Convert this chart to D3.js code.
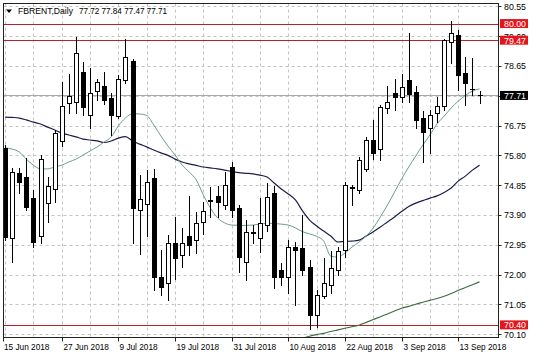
<!DOCTYPE html>
<html>
<head>
<meta charset="utf-8">
<script src="https://cdn.jsdelivr.net/npm/d3@7"></script>
<style>
  body { margin: 0; background: #fff; }
  svg { display: block; font-family: "Liberation Sans", Arial, sans-serif; }
</style>
</head>
<body>
<svg id="chart" width="536" height="358"></svg>
<script>
// daily bars, FBRENT
const dates = [
  "2018-06-15","2018-06-18","2018-06-19","2018-06-20","2018-06-21","2018-06-22","2018-06-25","2018-06-26",
  "2018-06-27","2018-06-28","2018-06-29","2018-07-02","2018-07-03","2018-07-04","2018-07-05","2018-07-06",
  "2018-07-09","2018-07-10","2018-07-11","2018-07-12","2018-07-13","2018-07-16","2018-07-17","2018-07-18",
  "2018-07-19","2018-07-20","2018-07-23","2018-07-24","2018-07-25","2018-07-26","2018-07-27","2018-07-30",
  "2018-07-31","2018-08-01","2018-08-02","2018-08-03","2018-08-06","2018-08-07","2018-08-08","2018-08-09",
  "2018-08-10","2018-08-13","2018-08-14","2018-08-15","2018-08-16","2018-08-17","2018-08-20","2018-08-21",
  "2018-08-22","2018-08-23","2018-08-24","2018-08-27","2018-08-28","2018-08-29","2018-08-30","2018-08-31",
  "2018-09-03","2018-09-04","2018-09-05","2018-09-06","2018-09-07","2018-09-10","2018-09-11","2018-09-12",
  "2018-09-13","2018-09-14","2018-09-17","2018-09-18"
];
const opens = [
  76.04,73.17,75.24,75.10,74.44,73.23,74.28,74.72, 76.25,77.46,77.49,78.46,77.08,77.85,78.01,77.62,
  77.05,78.20,78.81,74.06,74.25,75.09,71.93,71.73, 73.00,72.63,73.23,73.10,73.67,74.34,74.51,74.22,
  75.42,74.12,72.40,73.36,73.16,73.58,74.60,72.15, 71.93,72.88,72.84,72.24,70.71,71.32,71.67,72.15,
  72.78,74.79,74.69,75.36,76.29,76.00,77.31,77.78, 77.65,78.20,77.81,77.00,76.67,77.15,77.37,79.41,
  79.63,78.42,77.93,77.72
];
const highs = [
  76.13,75.40,75.40,75.72,74.69,75.80,75.10,76.60, 78.14,78.39,79.57,78.78,78.59,78.24,78.46,77.78,
  78.36,79.50,78.88,75.17,75.34,75.37,72.79,73.26, 73.83,73.48,74.50,73.99,74.31,74.80,74.82,75.28,
  75.60,74.22,73.74,73.58,74.44,74.92,74.82,72.37, 73.10,73.04,73.90,72.47,71.51,72.53,72.75,72.88,
  74.95,74.85,75.75,76.39,76.93,77.40,78.00,78.23, 78.39,79.70,78.00,77.20,77.24,77.65,79.50,80.08,
  79.80,78.94,78.90,77.84
];
const lows = [
  73.10,72.40,74.60,74.05,72.88,73.00,73.67,74.30, 76.10,77.15,77.15,77.08,76.67,77.56,77.43,76.45,
  76.99,78.11,73.00,72.65,73.23,71.51,71.35,71.20, 71.86,72.25,72.63,72.69,73.30,73.85,73.85,74.08,
  73.85,72.08,71.83,73.00,72.72,73.40,71.58,71.67, 71.41,71.03,71.99,70.27,70.33,71.26,71.41,71.99,
  72.56,74.22,74.60,75.30,75.68,75.65,77.15,77.24, 77.50,77.50,76.67,75.59,75.87,76.86,77.24,78.74,
  77.88,77.40,77.72,77.47
];
const closes = [
  73.20,75.27,74.95,74.15,73.03,75.68,74.82,76.50, 77.37,77.69,79.06,77.34,77.78,78.14,77.56,77.08,
  78.23,78.94,74.12,74.41,74.95,71.93,71.61,73.00, 72.52,73.00,72.94,73.64,74.02,74.38,74.33,74.85,
  74.06,72.56,73.36,73.33,73.64,74.47,71.93,71.93, 72.88,72.78,72.15,70.71,71.35,71.73,72.21,72.75,
  74.85,74.77,75.65,76.29,75.87,77.34,77.50,77.65, 77.97,77.75,76.93,76.54,77.08,77.37,79.47,79.70,
  78.36,78.11,77.91,77.71
];

// moving averages
const maFast = [
  76.04,76.00,75.91,75.68,75.49,75.37,75.37,75.43, 75.49,75.59,75.68,75.81,75.94,76.07,76.23,76.39,
  76.74,76.99,77.13,77.12,77.07,76.77,76.42,76.10, 75.81,75.49,75.27,75.02,74.54,74.12,73.81,73.65,
  73.58,73.57,73.57,73.58,73.61,73.64,73.63,73.61, 73.58,73.49,73.37,73.30,73.22,73.07,72.59,72.56,
  72.69,72.88,73.04,73.23,73.49,73.84,74.22,74.63, 75.05,75.43,75.78,76.13,76.45,76.80,77.05,77.31,
  77.53,77.71,77.85,77.92
];
const maSlow = [
  77.02,77.01,76.99,76.93,76.86,76.80,76.70,76.61, 76.51,76.45,76.39,76.32,76.29,76.26,76.21,76.26,
  76.35,76.40,76.26,76.16,76.07,75.97,75.88,75.80, 75.68,75.59,75.53,75.48,75.43,75.40,75.37,75.33,
  75.29,75.25,75.23,75.21,75.17,75.11,74.92,74.73, 74.57,74.38,74.03,73.74,73.55,73.39,73.23,73.04,
  73.06,73.07,73.10,73.23,73.37,73.52,73.68,73.84, 74.01,74.17,74.28,74.36,74.44,74.51,74.62,74.76,
  74.98,75.14,75.33,75.49
];
const maLong = [
  null,null,null,null,null,null,null,null, null,null,null,null,null,null,null,null,
  null,null,null,null,null,null,null,null, null,null,null,null,null,null,null,null,
  null,null,null,null,null,null,null,null, null,null,69.97,70.04,70.09,70.13,70.19,70.24,
  70.29,70.34,70.39,70.48,70.57,70.66,70.75,70.84, 70.93,70.99,71.06,71.12,71.18,71.24,71.31,71.40,
  71.50,71.59,71.68,71.77
];

const priceTicks = [70.10, 71.05, 72.00, 72.95, 73.90, 74.85, 75.80, 76.75, 77.70, 78.65, 79.60, 80.55];
const levels = [80.00, 79.47, 70.40];
const symbol = "FBRENT,Daily";

const svg = d3.select("#chart");
const pL = 3.5, pR = 498.5, pT = 3.5, pB = 337.5;
const FS = 9.6;

const x = d3.scaleLinear().domain([0, dates.length - 1]).range([5.1, 479.5]);
const y = d3.scaleLinear().domain([70.10, 80.55]).range([334.3, 6.3]);
const px = i => Math.round(x(i));
const py = v => Math.round(y(v));

const parse = d3.timeParse("%Y-%m-%d");
const fmt = d3.timeFormat("%-d %b %Y");

// squeeze text to the narrow terminal font widths
const narrow = (sel, w) => sel.attr("textLength", w).attr("lengthAdjust", "spacingAndGlyphs");

svg.append("rect").attr("width", 536).attr("height", 358).attr("fill", "#fff");

svg.append("clipPath").attr("id", "plot")
  .append("rect").attr("x", pL).attr("y", pT).attr("width", pR - pL).attr("height", pB - pT);

const g = svg.append("g").attr("clip-path", "url(#plot)");

// grid
g.selectAll(".hg").data(priceTicks).enter().append("line")
  .attr("x1", pL).attr("x2", pR)
  .attr("y1", d => py(d) + 0.5).attr("y2", d => py(d) + 0.5)
  .attr("stroke", "#c4c4c4").attr("stroke-dasharray", "3,3");
g.selectAll(".vg").data(d3.range(0, dates.length, 4)).enter().append("line")
  .attr("x1", d => px(d) + 0.5).attr("x2", d => px(d) + 0.5)
  .attr("y1", pT).attr("y2", pB)
  .attr("stroke", "#c4c4c4").attr("stroke-dasharray", "3,3");

// horizontal levels
g.selectAll(".lvl").data(levels).enter().append("line")
  .attr("x1", pL).attr("x2", pR)
  .attr("y1", d => py(d) + 0.5).attr("y2", d => py(d) + 0.5)
  .attr("stroke", "#b4232a").attr("stroke-width", 1);

// bid line
const last = closes[closes.length - 1];
g.append("line").attr("x1", pL).attr("x2", pR)
  .attr("y1", py(last) + 0.5).attr("y2", py(last) + 0.5)
  .attr("stroke", "#a8a8a8");

// moving averages
const line = arr => d3.line().defined(d => d != null)
  .x((d, i) => x(i)).y(d => y(d)).curve(d3.curveMonotoneX)(arr);
g.append("path").attr("d", line(maLong)).attr("fill", "none").attr("stroke", "#3d6b3d").attr("stroke-width", 1.1);
g.append("path").attr("d", line(maSlow)).attr("fill", "none").attr("stroke", "#1c1c4e").attr("stroke-width", 1.2);
g.append("path").attr("d", line(maFast)).attr("fill", "none").attr("stroke", "#6a9c8c").attr("stroke-width", 1);

// candles
const bars = g.selectAll(".bar").data(dates).enter().append("g");
bars.append("line")
  .attr("x1", (d, i) => px(i) + 0.5).attr("x2", (d, i) => px(i) + 0.5)
  .attr("y1", (d, i) => py(highs[i])).attr("y2", (d, i) => py(lows[i]) + 1)
  .attr("stroke", "#000");
bars.append("rect")
  .attr("x", (d, i) => closes[i] >= opens[i] ? px(i) - 1.5 : px(i) - 2)
  .attr("y", (d, i) => {
    const t = py(Math.max(opens[i], closes[i]));
    return closes[i] >= opens[i] ? t + 0.5 : t;
  })
  .attr("width", (d, i) => closes[i] >= opens[i] ? 4 : 5)
  .attr("height", (d, i) => {
    const h = Math.abs(py(opens[i]) - py(closes[i]));
    return closes[i] >= opens[i] ? Math.max(h, 0) : Math.max(h + 1, 1);
  })
  .attr("fill", (d, i) => closes[i] >= opens[i] ? "#fff" : "#000")
  .attr("stroke", (d, i) => closes[i] >= opens[i] ? "#000" : "none");

// frame
svg.append("rect").attr("x", pL).attr("y", pT).attr("width", pR - pL).attr("height", pB - pT)
  .attr("fill", "none").attr("stroke", "#222");

// price axis
const ax = svg.append("g");
ax.selectAll("line").data(priceTicks).enter().append("line")
  .attr("x1", pR).attr("x2", pR + 3)
  .attr("y1", d => py(d) + 0.5).attr("y2", d => py(d) + 0.5).attr("stroke", "#222");
ax.selectAll("text").data(priceTicks).enter().append("text")
  .attr("x", 504).attr("y", d => y(d)).attr("dy", "0.36em")
  .attr("font-size", FS).attr("fill", "#000")
  .text(d => d.toFixed(2))
  .call(narrow, 22);

// level / price tags
const tags = levels.map(v => ({ v, bg: "#e3161d" })).concat([{ v: last, bg: "#000" }]);
const tg = svg.selectAll(".tag").data(tags).enter().append("g");
tg.append("rect").attr("x", 500).attr("y", d => y(d.v) - 4.5).attr("width", 28).attr("height", 9)
  .attr("fill", d => d.bg);
tg.append("text").attr("x", 504).attr("y", d => y(d.v)).attr("dy", "0.36em")
  .attr("font-size", FS).attr("fill", "#fff").text(d => d.v.toFixed(2))
  .call(narrow, 22);

// time axis
const tIdx = d3.range(0, dates.length, 8);
const tx = svg.append("g");
tx.selectAll("line").data(tIdx).enter().append("line")
  .attr("x1", d => (d === 0 ? pL : px(d) + 0.5)).attr("x2", d => (d === 0 ? pL : px(d) + 0.5))
  .attr("y1", pB).attr("y2", pB + 4).attr("stroke", "#222");
tx.selectAll("text").data(tIdx).enter().append("text")
  .attr("x", d => (d === 0 ? 4 : px(d) + 1.5)).attr("y", 349.5)
  .attr("font-size", FS).attr("fill", "#000")
  .text(d => fmt(parse(dates[d])))
  .each(function () { const s = d3.select(this); narrow(s, this.getComputedTextLength() * 0.86); });

// header
const n = dates.length - 1;
svg.append("path").attr("d", "M6,9.5L12,9.5L9,13Z").attr("fill", "#000");
svg.append("text").attr("x", 18).attr("y", 14).attr("font-size", FS).text(symbol).call(narrow, 55);
svg.append("text").attr("x", 79).attr("y", 14).attr("font-size", FS)
  .text([opens[n], highs[n], lows[n], closes[n]].map(v => v.toFixed(2)).join(" "))
  .call(narrow, 88);
</script>
</body>
</html>
